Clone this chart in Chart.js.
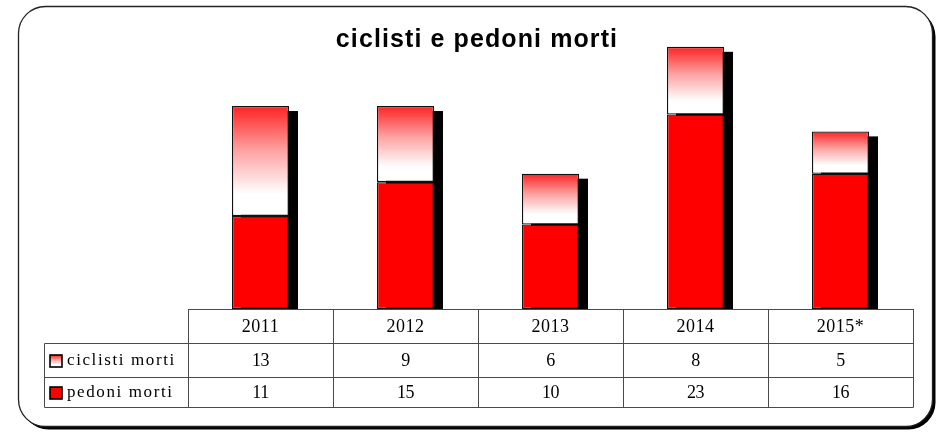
<!DOCTYPE html>
<html>
<head>
<meta charset="utf-8">
<script src="https://cdn.jsdelivr.net/npm/chart.js@4/dist/chart.umd.min.js"></script>
<style>
  html, body { margin: 0; padding: 0; background: #ffffff; }
  #wrap { width: 940px; height: 432px; }
</style>
</head>
<body>
<div id="wrap"><canvas id="c" width="940" height="432"></canvas></div>
<script>
const titleText = 'ciclisti e pedoni morti';
const categories = ['2011', '2012', '2013', '2014', '2015*'];
const ciclisti = [13, 9, 6, 8, 5];
const pedoni = [11, 15, 10, 23, 16];
const seriesLabels = ['ciclisti morti', 'pedoni morti'];

function gradFill(ctx, top, bot) {
  const g = ctx.createLinearGradient(0, top, 0, bot);
  g.addColorStop(0, '#ff2222');
  g.addColorStop(0.4, '#ffa0a0');
  g.addColorStop(0.8, '#ffffff');
  g.addColorStop(1, '#ffffff');
  return g;
}

function roundRect(ctx, x, y, w, h, r) {
  ctx.beginPath();
  ctx.moveTo(x + r, y);
  ctx.lineTo(x + w - r, y);
  ctx.arcTo(x + w, y, x + w, y + r, r);
  ctx.lineTo(x + w, y + h - r);
  ctx.arcTo(x + w, y + h, x + w - r, y + h, r);
  ctx.lineTo(x + r, y + h);
  ctx.arcTo(x, y + h, x, y + h - r, r);
  ctx.lineTo(x, y + r);
  ctx.arcTo(x, y, x + r, y, r);
  ctx.closePath();
}

const framePlugin = {
  id: 'frame',
  beforeDraw(chart) {
    const ctx = chart.ctx;
    ctx.save();
    ctx.fillStyle = '#ffffff';
    ctx.fillRect(0, 0, chart.width, chart.height);
    roundRect(ctx, 21.5, 9.5, 914, 420, 27);
    ctx.fillStyle = '#000000';
    ctx.fill();
    roundRect(ctx, 18.5, 6.5, 914, 420, 27);
    ctx.fillStyle = '#ffffff';
    ctx.fill();
    ctx.lineWidth = 1.3;
    ctx.strokeStyle = '#222222';
    ctx.stroke();
    ctx.restore();
  }
};

const shadowPlugin = {
  id: 'barShadow',
  beforeDatasetsDraw(chart) {
    const ctx = chart.ctx;
    const ys = chart.scales.y;
    const meta = chart.getDatasetMeta(1);
    const base = ys.getPixelForValue(0);
    ctx.save();
    ctx.fillStyle = '#000000';
    meta.data.forEach((el, i) => {
      const top = ys.getPixelForValue(pedoni[i] + ciclisti[i]);
      const w = el.width;
      ctx.fillRect(el.x - w / 2 + 9, top + 5, w, base - top - 5);
    });
    ctx.restore();
  }
};

const tablePlugin = {
  id: 'dataTable',
  afterDraw(chart) {
    const ctx = chart.ctx;
    const xs = chart.scales.x;
    const area = chart.chartArea;
    const n = categories.length;
    const colW = (area.right - area.left) / n;
    const rows = [area.bottom, area.bottom + 34, area.bottom + 68, area.bottom + 98];
    const legendLeft = 44.5;
    const L = Math.round(area.left) + 0.5;
    const R = Math.round(area.right) + 0.5;
    ctx.save();
    ctx.strokeStyle = '#4a4a4a';
    ctx.lineWidth = 1;
    ctx.beginPath();
    ctx.moveTo(L, Math.round(rows[0]) + 0.5); ctx.lineTo(R, Math.round(rows[0]) + 0.5);
    for (let r = 1; r < rows.length; r++) {
      const y = Math.round(rows[r]) + 0.5;
      ctx.moveTo(legendLeft, y); ctx.lineTo(R, y);
    }
    for (let c = 0; c <= n; c++) {
      const x = Math.round(area.left + c * colW) + 0.5;
      ctx.moveTo(x, rows[0]); ctx.lineTo(x, rows[3] + 0.5);
    }
    ctx.moveTo(legendLeft, Math.round(rows[1]) + 0.5);
    ctx.lineTo(legendLeft, Math.round(rows[3]) + 0.5);
    ctx.stroke();

    ctx.fillStyle = '#000000';
    ctx.font = '18px "Liberation Serif", "Times New Roman", serif';
    ctx.textAlign = 'center';
    ctx.textBaseline = 'middle';
    const rowData = [categories, ciclisti, pedoni];
    const centers = [(rows[0] + rows[1]) / 2, (rows[1] + rows[2]) / 2, (rows[2] + rows[3]) / 2];
    for (let i = 0; i < n; i++) {
      const cx = xs.getPixelForValue(i);
      ctx.letterSpacing = '0.5px';
      ctx.fillText(String(rowData[0][i]), cx, centers[0] + 1);
      ctx.letterSpacing = '-0.5px';
      ctx.fillText(String(rowData[1][i]), cx, centers[1] + 1);
      ctx.fillText(String(rowData[2][i]), cx, centers[2] + 1);
    }

    ctx.textAlign = 'left';
    ctx.letterSpacing = '1.6px';
    ctx.font = '17px "Liberation Serif", "Times New Roman", serif';
    const sw = 12;
    for (let r = 0; r < 2; r++) {
      const cy = centers[r + 1];
      const sx = 50, sy = Math.round(cy - sw / 2) + 1;
      ctx.fillStyle = r === 0 ? gradFill(ctx, sy, sy + sw) : '#ff0000';
      ctx.fillRect(sx, sy, sw, sw);
      ctx.lineWidth = 1.6;
      ctx.strokeStyle = '#000000';
      ctx.strokeRect(sx, sy, sw, sw);
      ctx.fillStyle = '#000000';
      ctx.fillText(seriesLabels[r], 67, cy + 1);
    }

    ctx.letterSpacing = '1.1px';
    ctx.textAlign = 'center';
    ctx.textBaseline = 'alphabetic';
    ctx.font = 'bold 25px "Liberation Sans", Arial, sans-serif';
    ctx.fillText(titleText, 477, 47);
    ctx.restore();
  }
};

const chart = new Chart(document.getElementById('c'), {
  type: 'bar',
  data: {
    labels: categories,
    datasets: [
      {
        label: seriesLabels[1],
        data: pedoni,
        backgroundColor: '#ff0000',
        borderColor: '#111111',
        borderWidth: 1.3,
        borderSkipped: false,
        barPercentage: 0.393,
        categoryPercentage: 1.0
      },
      {
        label: seriesLabels[0],
        data: ciclisti,
        backgroundColor: (c) => {
          const ch = c.chart;
          const ys = ch.scales && ch.scales.y;
          if (!ys || c.dataIndex === undefined) return '#ff8080';
          const i = c.dataIndex;
          const top = ys.getPixelForValue(pedoni[i] + ciclisti[i]);
          const bot = ys.getPixelForValue(pedoni[i]);
          if (!isFinite(top) || !isFinite(bot)) return '#ff8080';
          return gradFill(ch.ctx, top, bot);
        },
        borderColor: '#111111',
        borderWidth: 1.3,
        borderSkipped: false,
        barPercentage: 0.393,
        categoryPercentage: 1.0
      }
    ]
  },
  options: {
    responsive: false,
    animation: false,
    events: [],
    layout: { padding: { left: 188, right: 27, top: 13, bottom: 123 } },
    plugins: {
      legend: { display: false },
      title: { display: false },
      tooltip: { enabled: false }
    },
    scales: {
      x: { stacked: true, display: false },
      y: { stacked: true, display: false, min: 0, max: 35 }
    }
  },
  plugins: [framePlugin, shadowPlugin, tablePlugin]
});
</script>
</body>
</html>
